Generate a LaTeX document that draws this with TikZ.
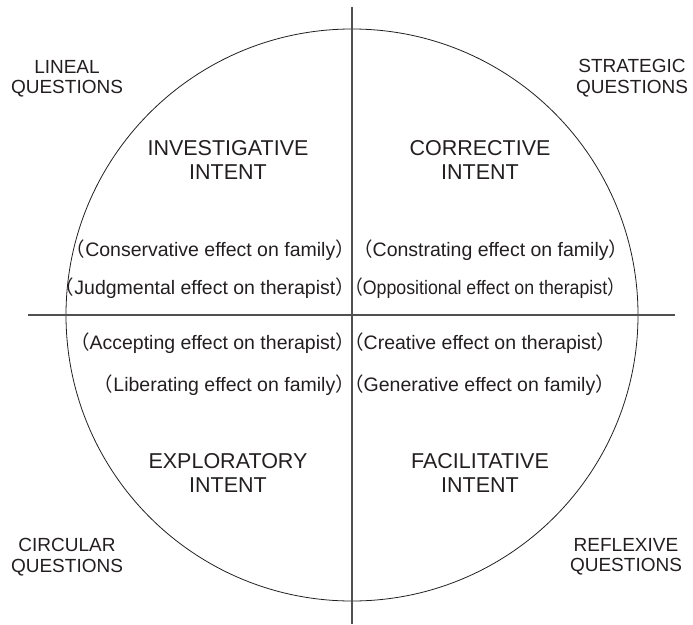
\documentclass[tikz,border=0pt]{standalone}
\usepackage{fontspec}
\setmainfont{Liberation Sans}
\newfontfamily\jpfont{Noto Sans CJK JP}
\usetikzlibrary{positioning}
\tikzset{
    %Text styles for the four quadrants
    corner/.style={align=center, inner sep=0pt, font=\fontsize{19}{20.5}\selectfont},
    intent/.style={align=center, inner sep=0pt, font=\fontsize{21.5}{24}\selectfont},
    effect/.style={inner sep=0pt, font=\fontsize{19.5}{20}\selectfont}
}
\definecolor{ink}{RGB}{35,31,32}
\definecolor{axis}{RGB}{80,80,80}
\newcommand{\lpar}{{\jpfont （}}
\newcommand{\rpar}{{\jpfont ）}}

\begin{document}
\begin{tikzpicture}[x=1pt, y=-1pt, every node/.style={text=ink}]

	\useasboundingbox (0, 0) rectangle (693, 624);

	\node (wheel) at (352, 315) [circle, draw=ink, line width=0.8pt, minimum size=572pt, inner sep=0pt] {};

	\coordinate (top) at (352, 7);
	\coordinate (bottom) at (352, 624);
	\coordinate (left) at (28, 315);
	\coordinate (right) at (675, 315);
	\draw[axis, line width=1.1pt] (top) -- (bottom);
	\draw[axis, line width=1.1pt] (left) -- (right);

	\node (lineal) at (67, 79) [corner] {LINEAL\\QUESTIONS};
	\node (strategic) at (632, 78) [corner] {STRATEGIC\\QUESTIONS};
	\node (circular) at (67, 557) [corner] {CIRCULAR\\QUESTIONS};
	\node (reflexive) at (626, 557) [corner] {REFLEXIVE\\QUESTIONS};

	\node (investigative) at (228, 160) [intent] {INVESTIGATIVE\\INTENT};
	\node (corrective) at (480, 160) [intent] {CORRECTIVE\\INTENT};
	\node (exploratory) at (228, 473) [intent] {EXPLORATORY\\INTENT};
	\node (facilitative) at (480, 473) [intent] {FACILITATIVE\\INTENT};

	\node (conservative) at (355, 250) [effect, anchor=east] {\lpar Conservative effect on family\rpar};
	\node (judgmental) at (355, 288) [effect, anchor=east] {\lpar Judgmental effect on therapist\rpar};
	\node (accepting) at (355, 343) [effect, anchor=east] {\lpar Accepting effect on therapist\rpar};
	\node (liberating) at (355, 385) [effect, anchor=east] {\lpar Liberating effect on family\rpar};

	\node (constrating) at (353, 250) [effect, anchor=west] {\lpar Constrating effect on family\rpar};
	\node (oppositional) at (345, 288) [effect, anchor=west, xscale=0.91, transform shape] {\lpar Oppositional effect on therapist\rpar};
	\node (creative) at (344, 343) [effect, anchor=west] {\lpar Creative effect on therapist\rpar};
	\node (generative) at (344, 385) [effect, anchor=west] {\lpar Generative effect on family\rpar};

\end{tikzpicture}
\end{document}
